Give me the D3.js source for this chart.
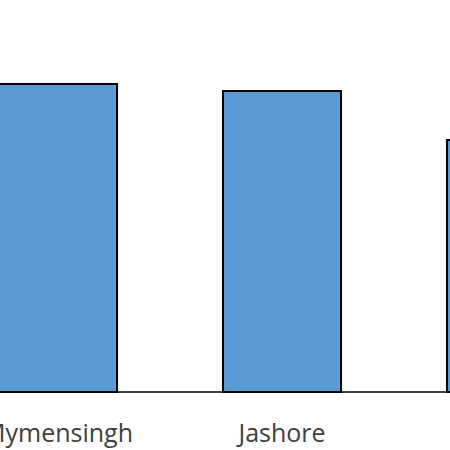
<!DOCTYPE html>
<html><head><meta charset="utf-8">
<script src="https://cdn.jsdelivr.net/npm/d3@7"></script>
<style>body{margin:0;background:#fff}</style></head>
<body><svg id="c" width="450" height="450"></svg>
<script>
const categories = ["Mymensingh", "Jashore", "Khulna"];
const values = [308, 301, 252];

const svg = d3.select("#c");
const x = d3.scaleBand().domain(categories).range([-54, 618]).paddingInner(0.473).paddingOuter(0.2365);
const y = d3.scaleLinear().domain([0, 400]).range([392, -8]);

svg.selectAll("rect").data(categories).join("rect")
  .attr("x", d => x(d)).attr("width", x.bandwidth())
  .attr("y", (d,i) => y(values[i])).attr("height", (d,i) => y(0) - y(values[i]))
  .attr("fill", "#5b9bd5").attr("stroke", "#000").attr("stroke-width", 2);

svg.append("line").attr("x1", 0).attr("x2", 450).attr("y1", y(0)).attr("y2", y(0))
  .attr("stroke", "#000").attr("stroke-width", 1.5);

svg.selectAll("text.lbl").data(categories).join("text").attr("class","lbl")
  .attr("x", d => x(d) + x.bandwidth()/2).attr("y", 442)
  .attr("text-anchor", "middle").attr("font-family", "Open Sans, sans-serif")
  .attr("font-size", 25).attr("fill", "#404040").text(d => d);
</script></body></html>
